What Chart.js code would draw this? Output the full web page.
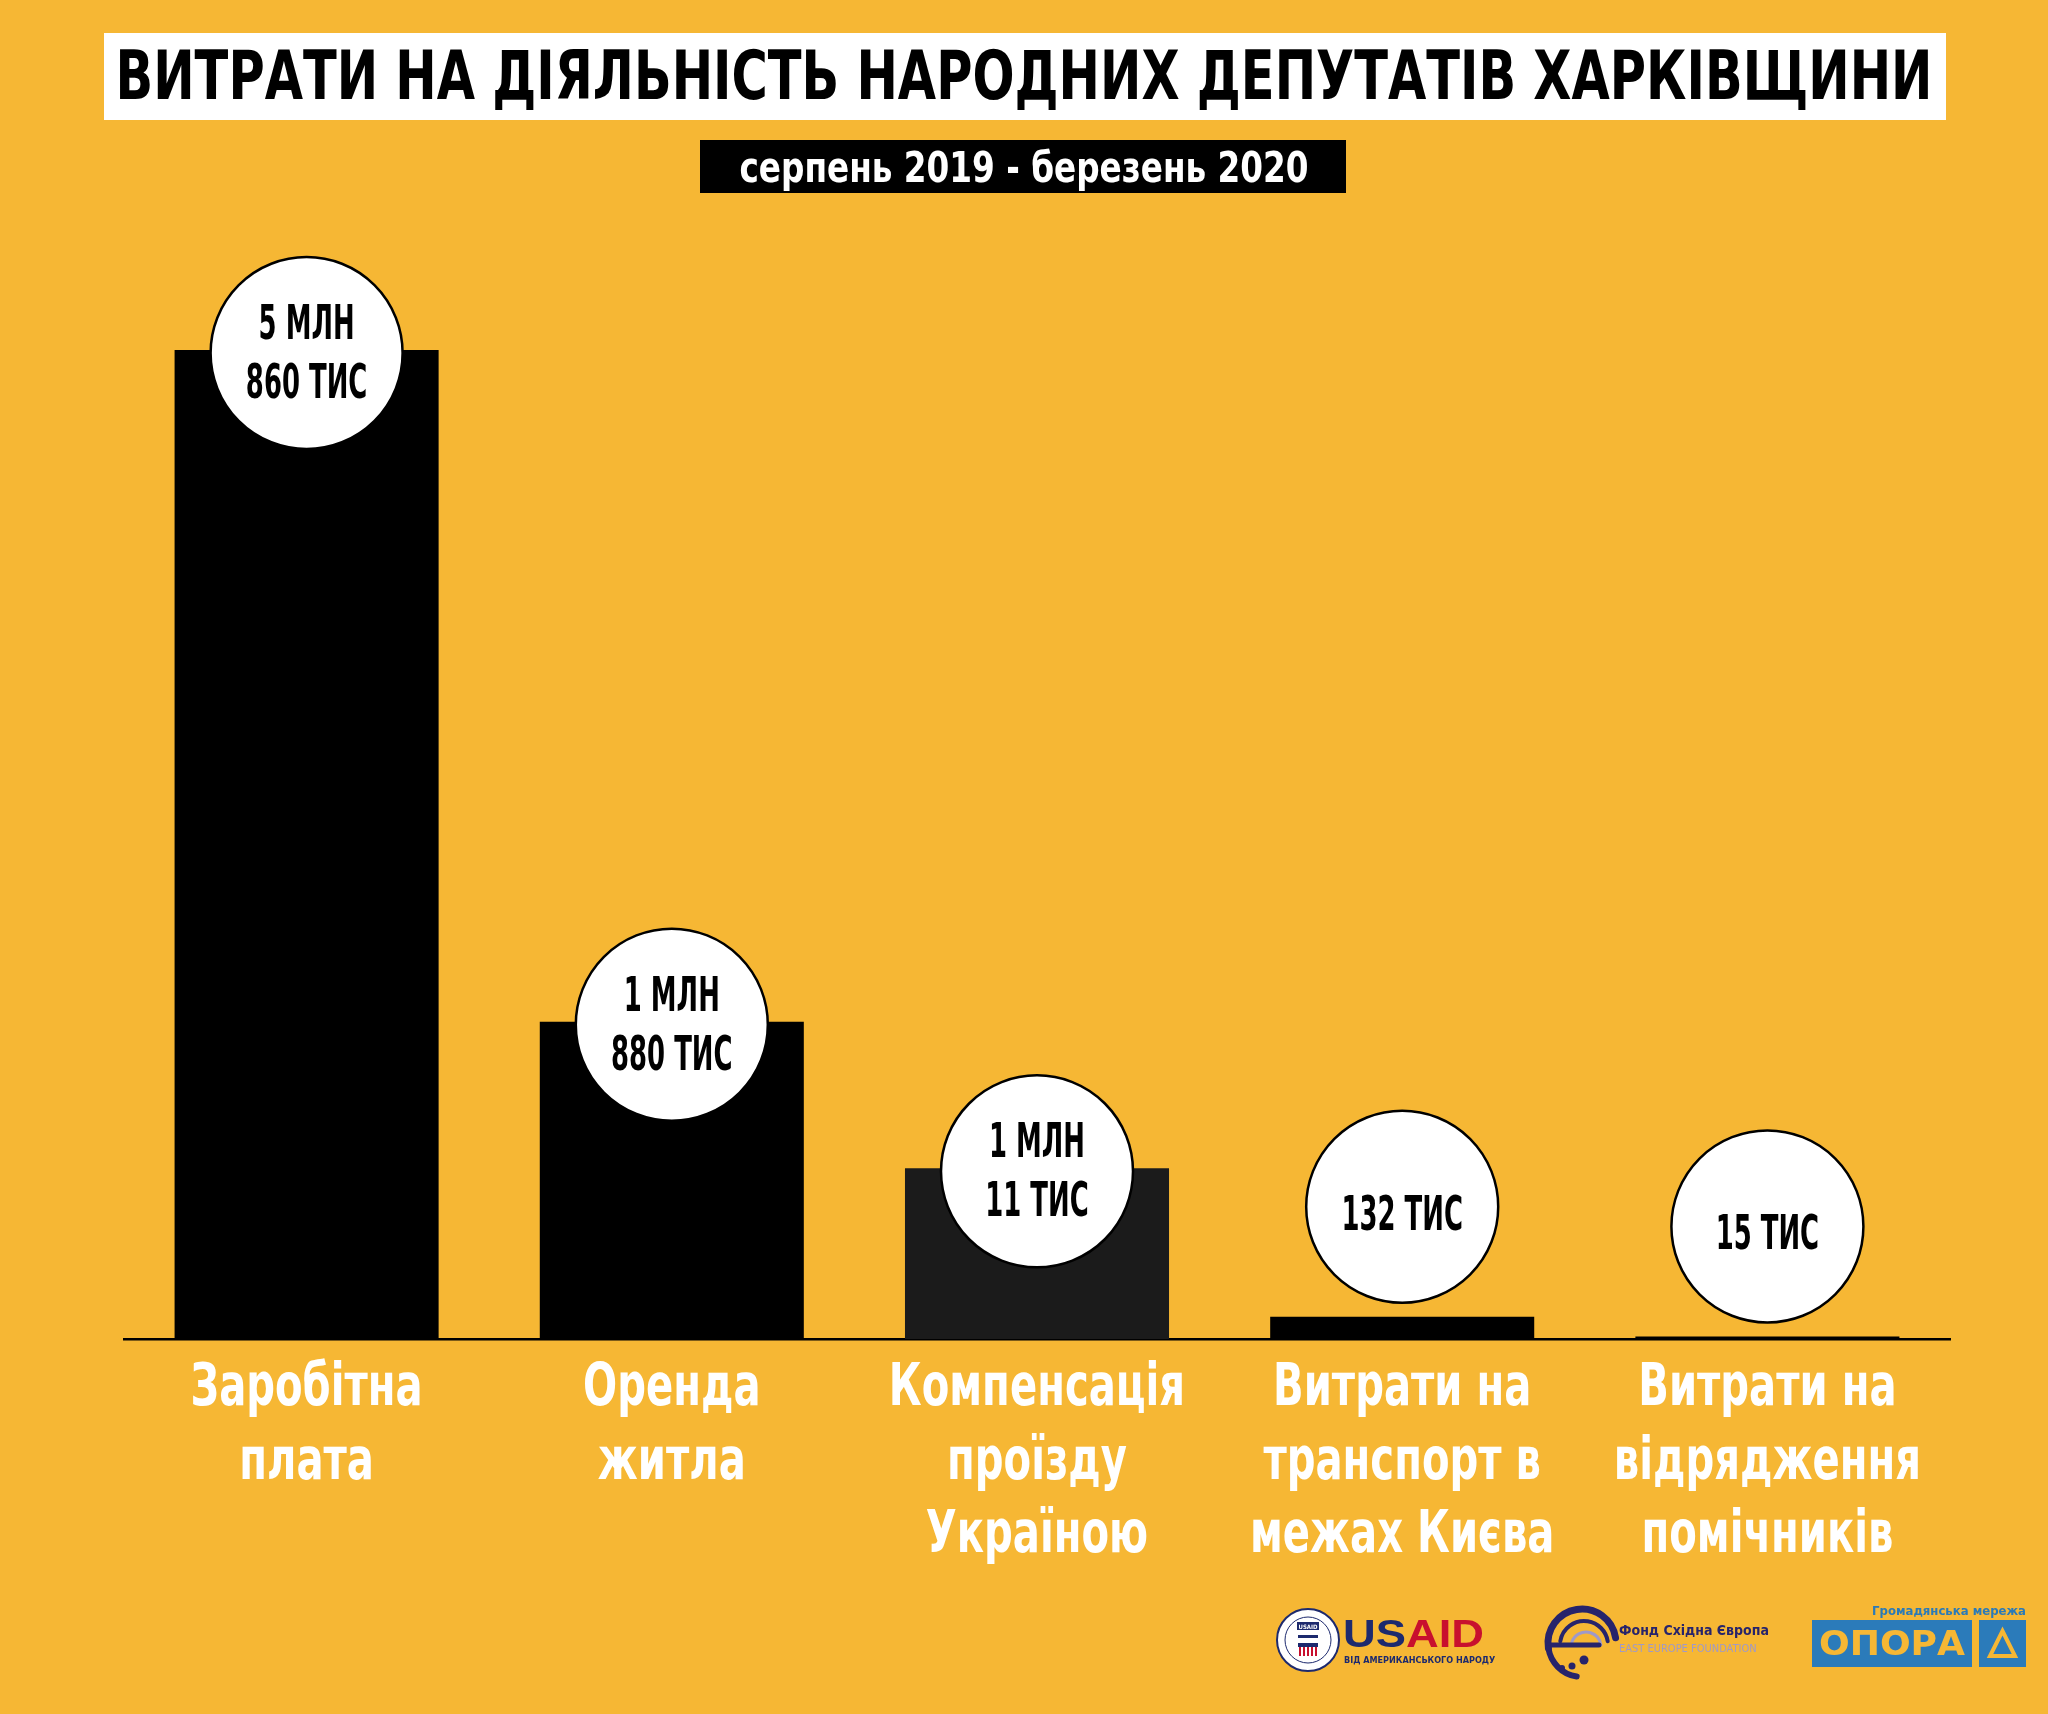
<!DOCTYPE html>
<html><head><meta charset="utf-8">
<script src="https://cdn.jsdelivr.net/npm/chart.js@4"></script>
<style>html,body{margin:0;padding:0;background:#F6B734;}canvas{display:block}</style>
</head><body>
<canvas id="c" width="2048" height="1714" style="width:2048px;height:1714px"></canvas>
<script>
const title = 'ВИТРАТИ НА ДІЯЛЬНІСТЬ НАРОДНИХ ДЕПУТАТІВ ХАРКІВЩИНИ';
const subtitle = 'серпень 2019 - березень 2020';
const categories = [
  ['Заробітна', 'плата'],
  ['Оренда', 'житла'],
  ['Компенсація', 'проїзду', 'Україною'],
  ['Витрати на', 'транспорт в', 'межах Києва'],
  ['Витрати на', 'відрядження', 'помічників']
];
const values = [5860000, 1880000, 1011000, 132000, 15000];
const barColors = ['#000000', '#000000', '#1b1b1b', '#000000', '#000000'];

const BG = '#F6B734';
const NARROW = '"Liberation Sans Narrow","DejaVu Sans Condensed","Roboto",sans-serif';
const TICK_SQUEEZE = 0.77;

function valueLines(v) {
  const m = Math.floor(v / 1e6), t = Math.round((v % 1e6) / 1000);
  const out = [];
  if (m) out.push(m + ' МЛН');
  if (t) out.push(t + ' ТИС');
  return out;
}

function drawScaled(ctx, text, x, y, sx) {
  ctx.save();
  ctx.translate(x, y);
  ctx.scale(sx, 1);
  ctx.fillText(text, 0, 0);
  ctx.restore();
}
function drawFit(ctx, text, cx, y, w) {
  const m = ctx.measureText(text).width;
  drawScaled(ctx, text, cx, y, w / m);
}

const bgPlugin = {
  id: 'bg',
  beforeDraw(chart) {
    const c = chart.ctx;
    c.save();
    c.fillStyle = BG;
    c.fillRect(0, 0, chart.width, chart.height);
    c.restore();
  }
};

// Narrow the x tick labels horizontally (the reference uses a condensed face)
const squeezeTicks = {
  id: 'squeezeTicks',
  beforeDraw(chart) {
    const sc = chart.scales.x;
    if (sc._squeezed) return;
    sc._squeezed = true;
    const orig = sc.drawLabels;
    sc._computeLabelArea = () => undefined;
    sc.drawLabels = function (area) {
      const items = this.getLabelItems(area);
      const saved = items.map(it => it.options.translation);
      items.forEach(it => {
        it.options.translation = [it.options.translation[0] / TICK_SQUEEZE, it.options.translation[1]];
      });
      this.ctx.save();
      this.ctx.scale(TICK_SQUEEZE, 1);
      orig.call(this, area);
      this.ctx.restore();
      items.forEach((it, i) => { it.options.translation = saved[i]; });
    };
  }
};

const headerPlugin = {
  id: 'header',
  afterDraw(chart) {
    const c = chart.ctx;
    c.save();
    c.fillStyle = '#ffffff';
    c.fillRect(104, 33, 1842, 87);
    c.fillStyle = '#000000';
    c.textAlign = 'center';
    c.textBaseline = 'alphabetic';
    c.font = 'bold 68px ' + NARROW;
    drawFit(c, title, 1024, 99, 1817);
    c.fillStyle = '#000000';
    c.fillRect(700, 140, 646, 53);
    c.fillStyle = '#ffffff';
    c.font = 'bold 42px ' + NARROW;
    drawFit(c, subtitle, 1024, 182, 569);
    c.restore();
  }
};

const circlePlugin = {
  id: 'circles',
  afterDatasetsDraw(chart) {
    const c = chart.ctx;
    const meta = chart.getDatasetMeta(0);
    const r = 96;
    c.save();
    meta.data.forEach((bar, i) => {
      const h = bar.base - bar.y;
      const cx = bar.x;
      const cy = h > r ? bar.y + 3 : bar.y - r - 14;
      c.beginPath();
      c.arc(cx, cy, r, 0, Math.PI * 2);
      c.fillStyle = '#ffffff';
      c.fill();
      c.lineWidth = 2.5;
      c.strokeStyle = '#000000';
      c.stroke();
      const lines = valueLines(values[i]);
      c.fillStyle = '#000000';
      c.textAlign = 'center';
      c.textBaseline = 'alphabetic';
      c.font = 'bold 48px ' + NARROW;
      if (lines.length === 2) {
        drawScaled(c, lines[0], cx, cy - 14, 0.6);
        drawScaled(c, lines[1], cx, cy + 45, 0.6);
      } else {
        drawScaled(c, lines[0], cx, cy + 23, 0.6);
      }
    });
    c.restore();
  }
};

const logoPlugin = {
  id: 'logos',
  afterDraw(chart) {
    const c = chart.ctx;
    c.save();
    // USAID seal
    c.beginPath(); c.arc(1308, 1640, 31, 0, Math.PI * 2);
    c.fillStyle = '#ffffff'; c.fill();
    c.lineWidth = 2; c.strokeStyle = '#1d2a6e'; c.stroke();
    c.beginPath(); c.arc(1308, 1640, 23, 0, Math.PI * 2);
    c.lineWidth = 1; c.stroke();
    c.fillStyle = '#1d2a6e'; c.fillRect(1297, 1622, 22, 8);
    c.fillStyle = '#ffffff'; c.font = 'bold 6px ' + NARROW; c.textAlign = 'center';
    c.fillText('USAID', 1308, 1628.5);
    c.fillStyle = '#1d2a6e'; c.fillRect(1298, 1635, 20, 3);
    c.fillStyle = '#1d2a6e'; c.fillRect(1298, 1643, 20, 4);
    c.fillStyle = '#c8102e';
    for (let k = 0; k < 5; k++) c.fillRect(1299 + k * 4, 1647, 2, 9);
    // USAID wordmark
    c.textAlign = 'left'; c.textBaseline = 'alphabetic';
    c.font = 'bold 38px "Liberation Sans", Arial, sans-serif';
    const wUS = c.measureText('US').width, wAll = c.measureText('USAID').width;
    const k = 141 / wAll;
    c.save(); c.translate(1343, 1647); c.scale(k, 1);
    c.fillStyle = '#1d2a6e'; c.fillText('US', 0, 0);
    c.fillStyle = '#c8102e'; c.fillText('AID', wUS, 0);
    c.restore();
    c.fillStyle = '#1d2a6e'; c.font = 'bold 9px ' + NARROW;
    c.fillText('ВІД АМЕРИКАНСЬКОГО НАРОДУ', 1344, 1663);
    // East Europe Foundation
    c.strokeStyle = '#27246b'; c.lineCap = 'round';
    c.lineWidth = 7;
    c.beginPath(); c.arc(1582, 1643, 34, Math.PI * 0.95, Math.PI * 1.95); c.stroke();
    c.lineWidth = 4;
    c.beginPath(); c.arc(1584, 1645, 24, Math.PI * 1.05, Math.PI * 1.95); c.stroke();
    c.strokeStyle = '#9f99c9'; c.lineWidth = 3;
    c.beginPath(); c.arc(1586, 1647, 15, Math.PI * 1.1, Math.PI * 1.95); c.stroke();
    c.strokeStyle = '#27246b'; c.lineWidth = 5;
    c.beginPath(); c.moveTo(1549, 1645); c.lineTo(1599, 1645); c.stroke();
    c.lineWidth = 6;
    c.beginPath(); c.arc(1582, 1643, 34, Math.PI * 0.95, Math.PI * 0.55, true); c.stroke();
    c.fillStyle = '#27246b';
    [[1562, 1668, 3], [1572, 1666, 3.5], [1584, 1660, 4.5]].forEach(d => { c.beginPath(); c.arc(d[0], d[1], d[2], 0, Math.PI * 2); c.fill(); });
    c.fillStyle = '#27246b'; c.font = 'bold 14px ' + NARROW;
    c.fillText('Фонд Східна Європа', 1619, 1635);
    c.fillStyle = '#9f99c9'; c.font = '11px ' + NARROW;
    c.fillText('EAST EUROPE FOUNDATION', 1619, 1652);
    // OPORA
    c.fillStyle = '#2a7ab8'; c.font = 'bold 13px ' + NARROW; c.textAlign = 'right';
    c.fillText('Громадянська мережа', 2026, 1615);
    c.fillStyle = '#2b7bba';
    c.fillRect(1812, 1620, 160, 47);
    c.fillRect(1979, 1620, 47, 47);
    c.fillStyle = BG; c.textAlign = 'center';
    c.font = 'bold 34px ' + NARROW;
    drawFit(c, 'ОПОРА', 1892, 1655, 146);
    c.strokeStyle = BG; c.lineWidth = 4; c.lineJoin = 'miter'; c.lineCap = 'butt';
    c.beginPath(); c.moveTo(2002.5, 1631); c.lineTo(2015, 1656); c.lineTo(1990, 1656); c.closePath(); c.stroke();
    c.restore();
  }
};

new Chart(document.getElementById('c').getContext('2d'), {
  type: 'bar',
  data: {
    labels: categories,
    datasets: [{
      data: values,
      backgroundColor: barColors,
      borderWidth: 0,
      barPercentage: 0.723,
      categoryPercentage: 1
    }]
  },
  options: {
    responsive: false,
    animation: false,
    devicePixelRatio: 1,
    layout: { padding: { left: 124, right: 98, top: 242, bottom: 0 } },
    plugins: { legend: { display: false }, tooltip: { enabled: false } },
    scales: {
      x: {
        grid: { display: false },
        border: { display: true, color: '#000000', width: 2.5 },
        ticks: {
          color: '#ffffff',
          font: { family: NARROW, size: 58, weight: 'bold', lineHeight: 1.27 },
          padding: 6,
          maxRotation: 0,
          autoSkip: false
        },
        afterFit(scale) { scale.height = 375; }
      },
      y: { display: false, min: 0, max: 6500000 }
    }
  },
  plugins: [bgPlugin, squeezeTicks, headerPlugin, circlePlugin, logoPlugin]
});
</script>
</body></html>
